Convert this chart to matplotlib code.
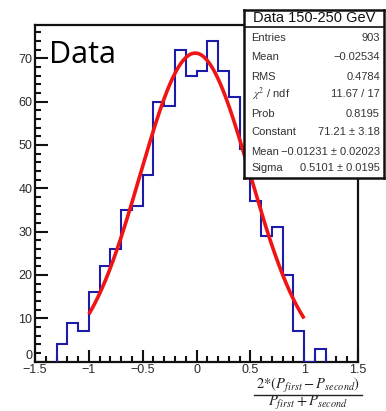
import numpy as np
import matplotlib
matplotlib.use("Agg")
import matplotlib.pyplot as plt
from matplotlib.lines import Line2D
from matplotlib.ticker import MultipleLocator

W, H = 386, 411
DPI = 100

# Histogram contents (bin width 0.1, first bin starts at -1.3)
bin_start = -1.3
bin_width = 0.1
counts = [4, 9, 7, 16, 22, 26, 35, 36, 43, 60, 59, 72, 66, 67, 74,
          67, 61, 49, 37, 29, 31, 20, 7, 0, 3]

# Gaussian fit results
fit_constant = 71.21
fit_mean = -0.01231
fit_sigma = 0.5101
fit_range = (-1.0, 1.0)

# Statistics box entries
stat_title = "Data 150-250 GeV"
stat_labels = ["Entries", "Mean", "RMS", r"$\chi^2$ / ndf", "Prob",
               "Constant", "Mean", "Sigma"]
stat_values = ["903", "\u22120.02534", "0.4784", "11.67 / 17", "0.8195",
               "71.21 \u00b1 3.18", "\u22120.01231 \u00b1 0.02023",
               "0.5101 \u00b1 0.0195"]

x_ticks = [-1.5, -1, -0.5, 0, 0.5, 1, 1.5]
x_tick_labels = ["\u22121.5", "\u22121", "\u22120.5", "0", "0.5", "1", "1.5"]
y_ticks = [0, 10, 20, 30, 40, 50, 60, 70]

plt.rcParams["font.family"] = ["Liberation Sans", "DejaVu Sans"]
plt.rcParams["mathtext.fontset"] = "stix"


def fx(px):
    return px / W


def fy(py):
    return 1 - py / H


fig = plt.figure(figsize=(W / DPI, H / DPI), dpi=DPI)
fig.patch.set_facecolor("white")

left, right, top, bottom = 35, 358, 25, 361.5
ax = fig.add_axes([fx(left), fy(bottom), fx(right - left), (bottom - top) / H])

edges = bin_start + bin_width * np.arange(len(counts) + 1)
ax.stairs(counts, edges, baseline=0, fill=False, color="#1c1ca8", lw=1.5, zorder=3)

xf = np.linspace(fit_range[0], fit_range[1], 300)
yf = fit_constant * np.exp(-0.5 * ((xf - fit_mean) / fit_sigma) ** 2)
ax.plot(xf, yf, color="#f01414", lw=2.6, zorder=4, solid_capstyle="butt")

ax.set_xlim(-1.5, 1.5)
ax.set_ylim(0, 1.05 * max(counts))
ax.set_xticks(x_ticks)
ax.set_xticklabels(x_tick_labels)
ax.set_yticks(y_ticks)
ax.xaxis.set_minor_locator(MultipleLocator(0.1))
ax.yaxis.set_minor_locator(MultipleLocator(2))
ax.tick_params(which="both", direction="in", top=False, right=False,
               width=1.5, colors="#111111", labelcolor="#2a2a2a",
               labelsize=9)
ax.tick_params(which="major", length=9)
ax.tick_params(which="minor", length=4.5)
ax.tick_params(axis="x", pad=1.5)
ax.tick_params(axis="y", pad=2)
for s in ax.spines.values():
    s.set_linewidth(1.6)
    s.set_color("#111111")
# the zero label of the y axis sits slightly above the axis line
ax.get_yticklabels()[0].set_va("bottom")

ax.text(fx(49 - left) * W / (right - left), 0.955, "Data",
        transform=ax.transAxes, fontsize=22,
        family=["Open Sans", "DejaVu Sans"], va="top", ha="left",
        color="black")

# Axis title drawn as a fraction at the lower right
xc = 308
fig.text(fx(xc), fy(385), r"$2{*}(P_{first}-P_{second})$", ha="center",
         va="center", fontsize=10.5, color="#222222")
fig.add_artist(Line2D([fx(254), fx(362)], [fy(394.5), fy(394.5)], lw=1.0,
                      color="#222222", transform=fig.transFigure))
fig.text(fx(xc), fy(402.5), r"$P_{first}+P_{second}$", ha="center",
         va="center", fontsize=10.5, color="#222222")

# Statistics box
bl, br, bt, bb = 244, 384, 10, 178
box = fig.add_axes([fx(bl), fy(bb), fx(br - bl), (bb - bt) / H])
box.set_xlim(bl, br)
box.set_ylim(bb, bt)
box.set_xticks([])
box.set_yticks([])
box.set_facecolor("white")
box.set_zorder(10)
for s in box.spines.values():
    s.set_linewidth(1.8)
    s.set_color("#111111")
box.axhline(27.5, color="#111111", lw=1.2)
box.text((bl + br) / 2, 18.5, stat_title, ha="center", va="center",
         fontsize=10.5, color="#111111")
row_y = [38.3, 56.7, 76.7, 94.3, 114, 132, 151.7, 167.7]
for lab, val, yy in zip(stat_labels, stat_values, row_y):
    box.text(251.5, yy, lab, ha="left", va="center", fontsize=8,
             color="#333333")
    box.text(380, yy, val, ha="right", va="center", fontsize=8,
             color="#333333")

fig.savefig("out.png", dpi=DPI)
